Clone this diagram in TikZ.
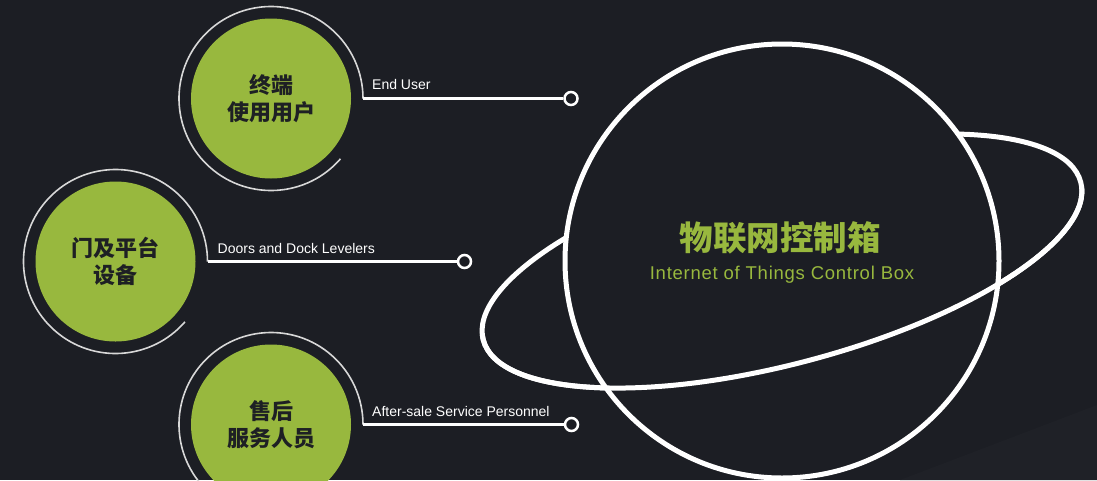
\documentclass[tikz,border=0pt]{standalone}
\usepackage{fontspec}
\setmainfont{Liberation Sans}
\newfontfamily\cjk{Noto Sans CJK SC}
\definecolor{bg}{HTML}{1C1E24}
\definecolor{bgl}{HTML}{1F2127}
\definecolor{leaf}{HTML}{98B83E}
\definecolor{ink}{HTML}{1E2024}
\definecolor{halo}{HTML}{D8D8D8}
\begin{document}
\begin{tikzpicture}[x=1pt,y=-1pt,
  topic/.style={circle, fill=leaf, minimum size=160pt, inner sep=0pt, align=center, text=ink, font=\cjk\bfseries\fontsize{22}{27}\selectfont},
  endpt/.style={circle, draw=white, line width=2.5pt, fill=bg, minimum size=13pt, inner sep=0pt},
  link/.style={draw=white, line width=2.5pt},
  haloline/.style={draw=halo, line width=1.6pt},
  tag/.style={anchor=base west, text=white, font=\fontsize{14}{16}\selectfont, inner sep=0pt},
  planet/.style={draw=white, line width=5pt}
]
\useasboundingbox (0,0) rectangle (1097,480);
\clip (0,0) rectangle (1097,480);
\fill[bg] (0,0) rectangle (1097,480);
\fill[bgl] (900,480) -- (1097,405) -- (1097,480) -- cycle;

% topic circles
\node[topic] (g1) at (271,98.5) {终端\\使用用户};
\node[topic] (g2) at (115.5,261.5) {门及平台\\设备};
\node[topic] (g3) at (271,424.5) {售后\\服务人员};

% halos
\draw[haloline] ([shift={(41:92)}]g1.center) arc[start angle=41, end angle=360, radius=92];
\draw[haloline] ([shift={(41:92)}]g2.center) arc[start angle=41, end angle=360, radius=92];
\draw[haloline] ([shift={(41:92)}]g3.center) arc[start angle=41, end angle=360, radius=92];

\coordinate (a1) at ([shift={(92,0)}]g1.center);
\coordinate (a2) at ([shift={(92,0)}]g2.center);
\coordinate (a3) at ([shift={(92,0)}]g3.center);

\node[endpt] (d1) at (571,98.5) {};
\node[endpt] (d2) at (464.5,261.5) {};
\node[endpt] (d3) at (571.5,424.5) {};

\draw[link] (a1) -- (d1);
\draw[link] (a2) -- (d2);
\draw[link] (a3) -- (d3);

\node[tag] (t1) at ([shift={(9,-9)}]a1) {End User};
\node[tag] (t2) at ([shift={(10,-8.5)}]a2) {Doors and Dock Levelers};
\node[tag] (t3) at ([shift={(9,-8.5)}]a3) {After-sale Service Personnel};

% planet
\coordinate (pc) at (782,261);
\draw[planet, rotate around={14.8:(pc)}] (pc) ellipse [x radius=309pt, y radius=103pt];
\node[circle, draw=white, line width=5pt, fill=bg, minimum size=434pt, inner sep=0pt] (hub) at (pc) {};
\begin{scope}
\clip (400,354) -- (1100,183) -- (1100,500) -- (400,500) -- cycle;
\draw[planet, rotate around={14.8:(pc)}] (pc) ellipse [x radius=309pt, y radius=103pt];
\end{scope}

\node[text=leaf, font=\cjk\bfseries\fontsize{33.5}{36}\selectfont] (title) at (780,238) {物联网控制箱};
\node[text=leaf, font=\addfontfeature{LetterSpace=4}\fontsize{18.5}{21}\selectfont] (sub) at (782,275) {Internet of Things Control Box};
\end{tikzpicture}
\end{document}
